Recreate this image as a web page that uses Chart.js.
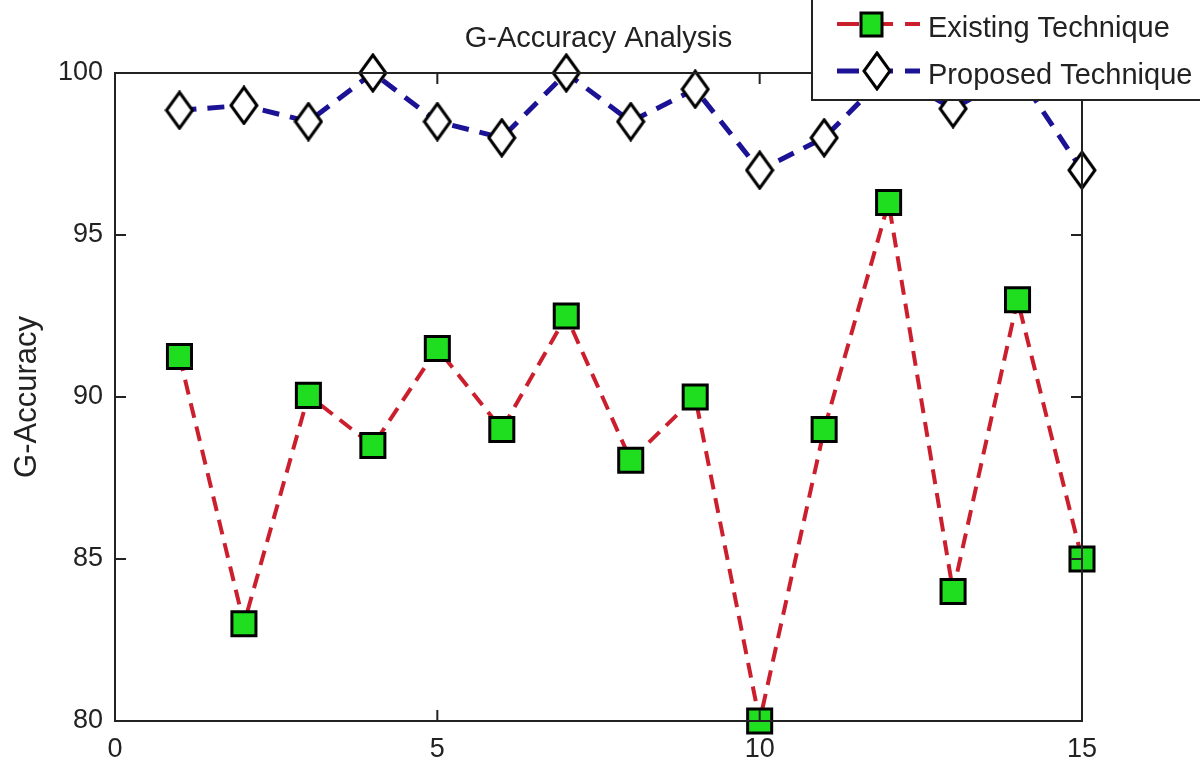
<!DOCTYPE html>
<html>
<head>
<meta charset="utf-8">
<script src="https://cdn.jsdelivr.net/npm/chart.js@4"></script>
<style>
  html, body { margin: 0; padding: 0; background: #fff; }
  #wrap { width: 1200px; height: 762px; }
</style>
</head>
<body>
<div id="wrap"><canvas id="accChart" width="1200" height="762"></canvas></div>
<script>
        // values
        const runs = [1, 2, 3, 4, 5, 6, 7, 8, 9, 10, 11, 12, 13, 14, 15];
        const existingTech = [91.25, 83, 90.05, 88.5, 91.5, 89, 92.5, 88.05, 90, 80, 89, 96, 84, 93, 85];
        const proposedTech = [98.85, 99, 98.5, 100, 98.5, 98, 100, 98.5, 99.5, 97, 98, 100, 98.9, 100, 97];
        const seriesNames = ['Existing Technique', 'Proposed Technique'];
        const chartTitle = 'G-Accuracy Analysis';
        const xTicks = [0, 5, 10, 15];
        const yTicks = [80, 85, 90, 95, 100];

        const ink = '#222';
        const redLine = '#cc1f2e';
        const blueLine = '#1c1296';
        const greenFill = '#1fde1f';
        const fontFam = '"Liberation Sans", Arial, sans-serif';

        // tall diamond marker (matlab style)
        function makeDiamond() {
            const c = document.createElement('canvas');
            c.width = 30; c.height = 40;
            const g = c.getContext('2d');
            g.beginPath();
            g.moveTo(15, 2); g.lineTo(28, 20); g.lineTo(15, 38); g.lineTo(2, 20);
            g.closePath();
            g.fillStyle = '#fff';
            g.fill();
            g.lineWidth = 3;
            g.strokeStyle = '#000';
            g.stroke();
            return c;
        }
        const diamond = makeDiamond();

        const toPoints = arr => arr.map((v, i) => ({ x: runs[i], y: v }));

        // inner ticks + top/right frame + title over plot area
        const frameTicks = {
            id: 'frameTicks',
            afterDatasetsDraw(chart) {
                const { ctx, chartArea: a, scales } = chart;
                ctx.save();
                ctx.strokeStyle = ink;
                ctx.lineWidth = 2;
                ctx.strokeRect(a.left, a.top, a.right - a.left, a.bottom - a.top);
                const len = 11;
                ctx.beginPath();
                xTicks.slice(1, -1).forEach(v => {
                    const px = scales.x.getPixelForValue(v);
                    ctx.moveTo(px, a.bottom); ctx.lineTo(px, a.bottom - len);
                    ctx.moveTo(px, a.top); ctx.lineTo(px, a.top + len);
                });
                yTicks.slice(1, -1).forEach(v => {
                    const py = scales.y.getPixelForValue(v);
                    ctx.moveTo(a.left, py); ctx.lineTo(a.left + len, py);
                    ctx.moveTo(a.right, py); ctx.lineTo(a.right - len, py);
                });
                ctx.stroke();

                ctx.fillStyle = ink;
                ctx.font = '29px ' + fontFam;
                ctx.textAlign = 'center';
                ctx.textBaseline = 'alphabetic';
                ctx.fillText(chartTitle, (a.left + a.right) / 2, 47);
                ctx.restore();
            }
        };

        // legend box sitting over the top right corner
        const cornerLegend = {
            id: 'cornerLegend',
            afterDraw(chart) {
                const ctx = chart.ctx;
                ctx.save();
                ctx.fillStyle = '#fff';
                ctx.fillRect(812, -5, 400, 105);
                ctx.strokeStyle = ink;
                ctx.lineWidth = 2;
                ctx.strokeRect(812, -5, 400, 105);

                const rows = [
                    { y: 24, base: 37, color: redLine, dash: [22, 12], width: 4 },
                    { y: 71, base: 84, color: blueLine, dash: [22, 12], width: 5 }
                ];
                rows.forEach((r, i) => {
                    ctx.beginPath();
                    ctx.setLineDash(r.dash);
                    ctx.strokeStyle = r.color;
                    ctx.lineWidth = r.width;
                    ctx.moveTo(837, r.y); ctx.lineTo(920, r.y);
                    ctx.stroke();
                    ctx.setLineDash([]);
                    if (i === 0) {
                        ctx.fillStyle = greenFill;
                        ctx.fillRect(861, r.y - 11, 21, 23);
                        ctx.lineWidth = 3;
                        ctx.strokeStyle = '#000';
                        ctx.strokeRect(861, r.y - 11, 21, 23);
                    } else {
                        ctx.drawImage(diamond, 877 - 15, r.y - 20);
                    }
                    ctx.fillStyle = ink;
                    ctx.font = '29px ' + fontFam;
                    ctx.textBaseline = 'alphabetic';
                    ctx.fillText(seriesNames[i], 928, r.base);
                });
                ctx.restore();
            }
        };

        const ctxAcc = document.getElementById('accChart').getContext('2d');
        new Chart(ctxAcc, {
            type: 'line',
            data: {
                datasets: [{
                    label: seriesNames[0],
                    data: toPoints(existingTech),
                    borderColor: redLine,
                    borderWidth: 4,
                    borderDash: [15, 9],
                    pointStyle: 'rect',
                    pointRadius: 17,
                    pointBackgroundColor: greenFill,
                    pointBorderColor: '#000',
                    pointBorderWidth: 3,
                    tension: 0,
                    clip: false
                }, {
                    label: seriesNames[1],
                    data: toPoints(proposedTech),
                    borderColor: blueLine,
                    borderWidth: 5,
                    borderDash: [17, 11],
                    pointStyle: diamond,
                    pointRadius: 18,
                    tension: 0,
                    clip: false
                }]
            },
            options: {
                responsive: false,
                animation: false,
                events: [],
                layout: { padding: { left: 0, right: 118, top: 73, bottom: 0 } },
                plugins: {
                    legend: { display: false },
                    tooltip: { enabled: false },
                    title: { display: false }
                },
                scales: {
                    x: {
                        type: 'linear',
                        min: 0, max: 15,
                        afterBuildTicks: s => { s.ticks = xTicks.map(v => ({ value: v })); },
                        afterFit: s => { s.height = 41; },
                        grid: { display: false, drawTicks: false },
                        border: { display: true, color: ink, width: 2 },
                        ticks: {
                            color: ink,
                            padding: 12,
                            maxRotation: 0,
                            font: { family: fontFam, size: 27 }
                        }
                    },
                    y: {
                        min: 80, max: 100,
                        afterBuildTicks: s => { s.ticks = yTicks.map(v => ({ value: v })); },
                        afterFit: s => { s.width = 115; },
                        grid: { display: false, drawTicks: false },
                        border: { display: true, color: ink, width: 2 },
                        title: {
                            display: true,
                            text: 'G-Accuracy',
                            color: ink,
                            font: { family: fontFam, size: 31 },
                            padding: { top: 9, bottom: 0 }
                        },
                        ticks: {
                            color: ink,
                            padding: 12,
                            font: { family: fontFam, size: 27 }
                        }
                    }
                }
            },
            plugins: [frameTicks, cornerLegend]
        });
</script>
</body>
</html>
